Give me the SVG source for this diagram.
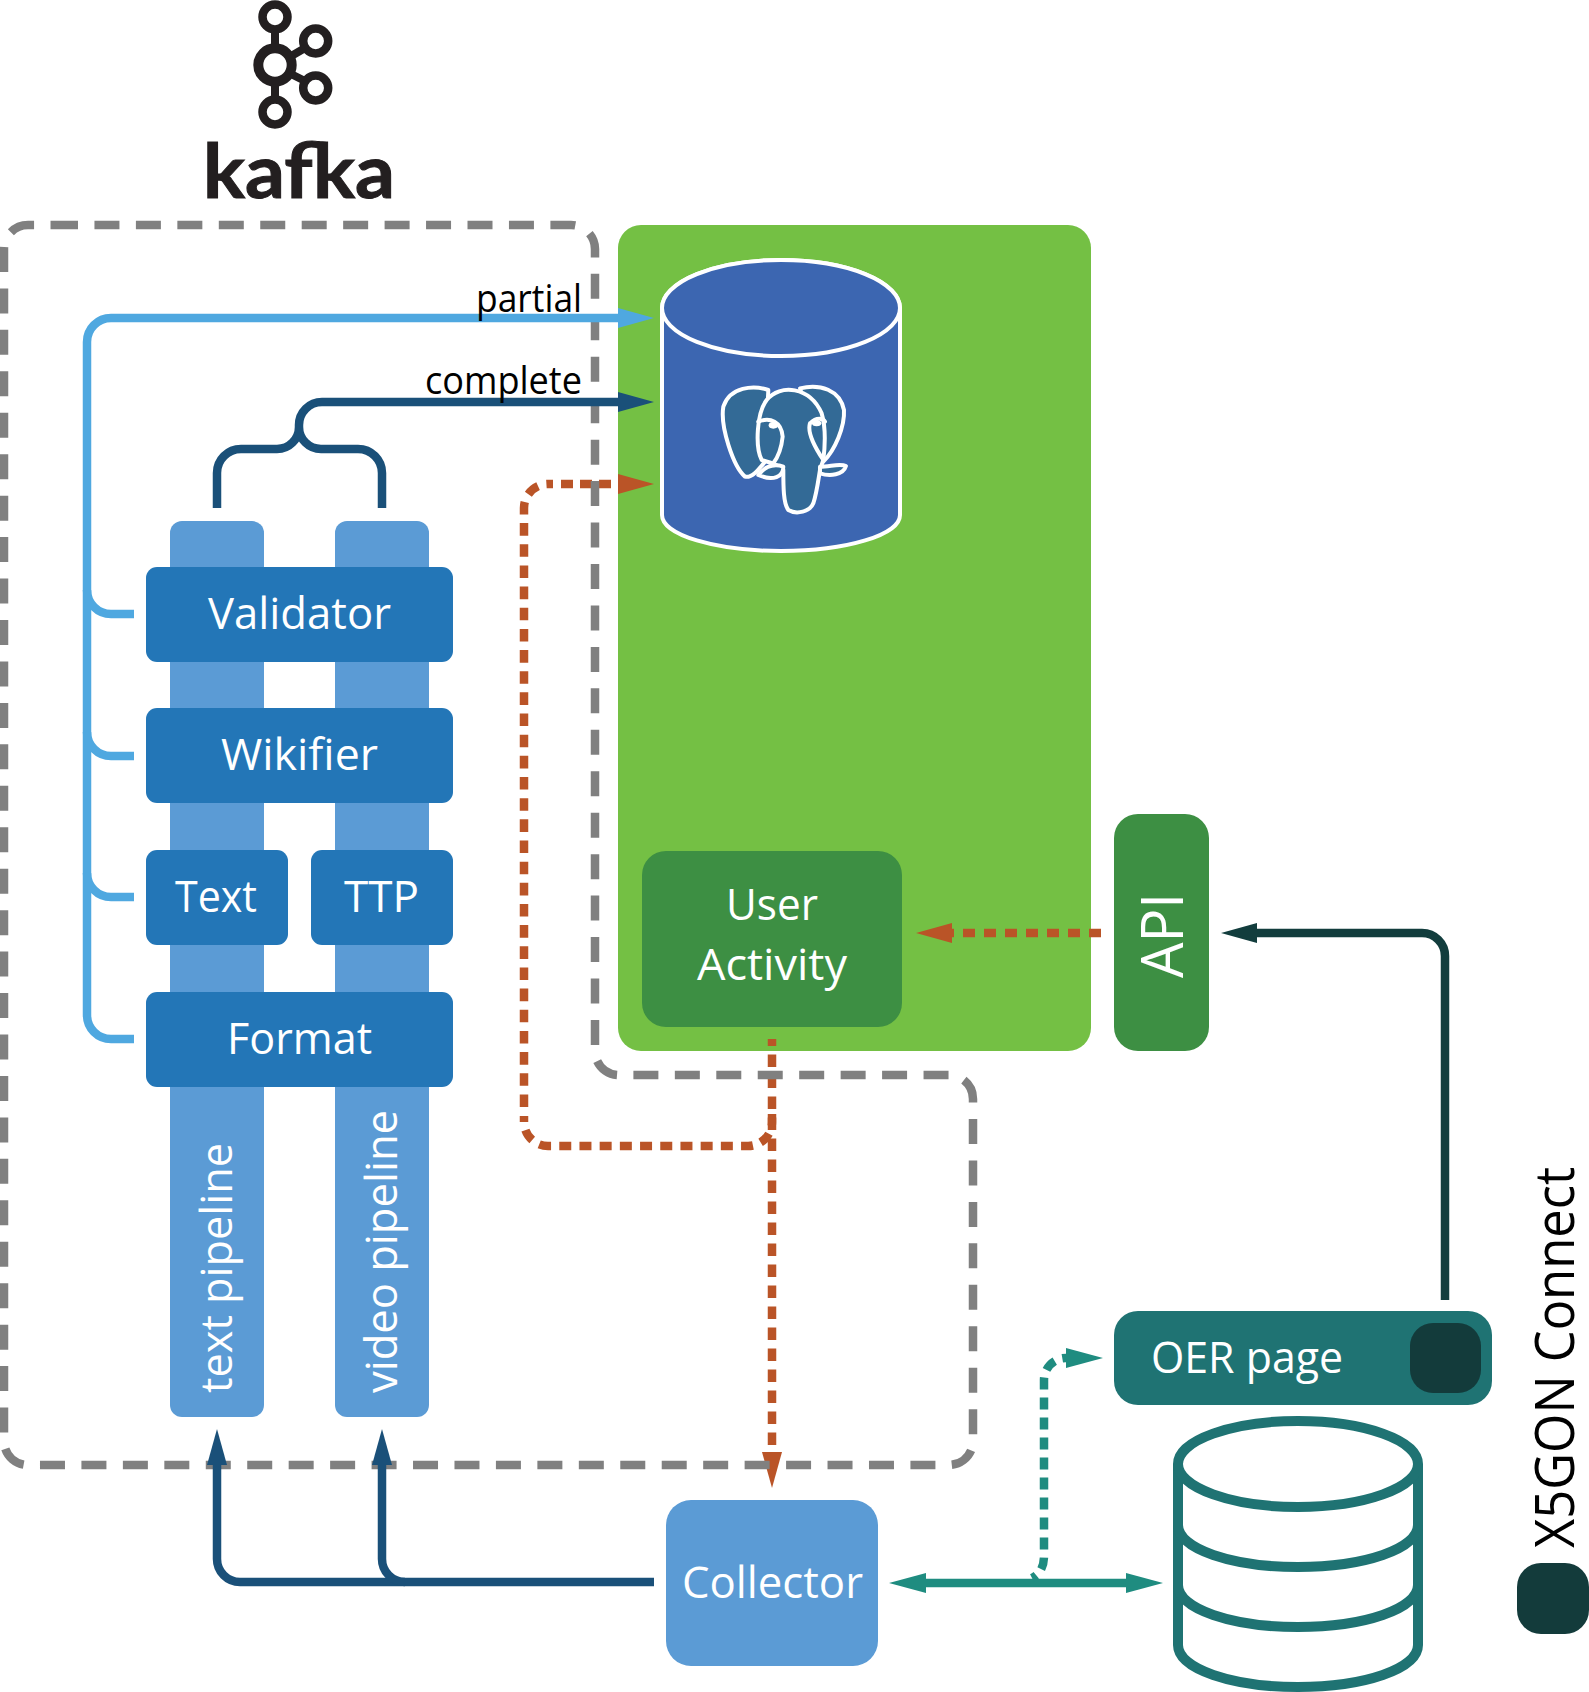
<svg xmlns="http://www.w3.org/2000/svg" width="1589" height="1692" viewBox="0 0 1589 1692">
<style>
text{font-family:"Open Sans","Noto Sans","Liberation Sans",sans-serif}
.w{fill:#fff;font-size:44px}
.b{fill:#000;font-size:38px}
.line{fill:none;stroke-width:8.500}
.pipe{fill:#5B9BD5}
.step{fill:#2376B7}
.dg{fill:#3D8F43}
.ring{fill:none;stroke:#231F20}
.teal{fill:none;stroke:#1F7373;stroke-width:10}
.pg{fill:#3C66B1;stroke:#fff;stroke-width:4}
.el{fill:#336A96;stroke:#fff;stroke-width:12;stroke-linejoin:round;stroke-linecap:round}
</style>
<defs>
<marker id="mLight" markerUnits="userSpaceOnUse" markerWidth="36" markerHeight="20" refX="0" refY="10" orient="auto"><path d="M0 0L36 10L0 20z" fill="#4FA8E0"/></marker>
<marker id="mDark" markerUnits="userSpaceOnUse" markerWidth="36" markerHeight="20" refX="0" refY="10" orient="auto"><path d="M0 0L36 10L0 20z" fill="#1A5079"/></marker>
<marker id="mOrange" markerUnits="userSpaceOnUse" markerWidth="36" markerHeight="20" refX="0" refY="10" orient="auto"><path d="M0 0L36 10L0 20z" fill="#BA5427"/></marker>
<marker id="mTeal" markerUnits="userSpaceOnUse" markerWidth="37" markerHeight="20" refX="0" refY="10" orient="auto-start-reverse"><path d="M0 0L37 10L0 20z" fill="#1F8C80"/></marker>
<marker id="mDeep" markerUnits="userSpaceOnUse" markerWidth="36" markerHeight="20" refX="0" refY="10" orient="auto"><path d="M0 0L36 10L0 20z" fill="#123D3D"/></marker>
</defs>

<g id="kafka-logo">
<g class="ring">
<circle cx="275" cy="65" r="16.700" stroke-width="10"/>
<circle cx="275" cy="17" r="12.500" stroke-width="8.500"/>
<circle cx="275" cy="112" r="12.500" stroke-width="8.500"/>
<circle cx="315.700" cy="41" r="12.500" stroke-width="8.500"/>
<circle cx="315.700" cy="88" r="12.500" stroke-width="8.500"/>
<path d="M275 30V45M275 85V99M293 55L305 48M293 75L305 81" stroke-width="8"/>
</g>
<text x="203" y="198" font-size="74" font-weight="700" fill="#231F20" stroke="#231F20" stroke-width="1" textLength="192" lengthAdjust="spacingAndGlyphs" style="font-family:Lato,'Liberation Sans',sans-serif">kafka</text>
</g>

<g id="postgres-box">
<rect x="618" y="225" width="473" height="826" rx="23" fill="#74C044"/>
</g>
<g id="postgres">
<path class="pg" d="M662 308A119 48 0 0 1 900 308V515A119 36 0 0 1 662 515Z"/>
<ellipse class="pg" cx="781" cy="308" rx="119" ry="48"/>
<g transform="translate(640 240) scale(.3333)">
<path class="el" d="M385 450C340 435 270 440 250 500C240 560 280 680 315 710C335 715 355 690 375 665Z"/>
<path class="el" d="M480 445C540 430 600 450 612 510C615 560 585 630 550 665Z"/>
<path class="el" d="M365 660C345 620 350 520 380 480C420 430 510 440 545 520C560 570 555 620 550 660L540 690C535 720 530 760 520 790C510 815 470 825 445 810C430 790 430 740 430 690C425 680 400 670 365 660Z"/>
<path class="el" style="fill:none" d="M355 545C390 530 425 545 428 590C425 620 415 650 400 670M510 550C530 530 550 535 555 545M510 550C500 580 530 630 550 660"/>
<path class="el" d="M355 705C375 680 400 670 430 680C430 710 400 725 355 705Z"/>
<path class="el" d="M540 680C570 680 600 670 618 678C610 705 570 710 540 700Z"/>
<ellipse cx="400" cy="556" rx="14" ry="10" fill="#fff"/>
<ellipse cx="530" cy="550" rx="14" ry="9" fill="#fff"/>
</g>
</g>
<g id="user-activity">
<rect class="dg" x="642" y="851" width="260" height="176" rx="24"/>
<text class="w" x="772" y="920" text-anchor="middle" textLength="92" lengthAdjust="spacingAndGlyphs">User</text>
<text class="w" x="772" y="980" text-anchor="middle" textLength="150" lengthAdjust="spacingAndGlyphs">Activity</text>
</g>
<g id="api">
<rect class="dg" x="1114" y="814" width="95" height="237" rx="24"/>
<text class="w" transform="translate(1183 978) rotate(-90)" textLength="85" lengthAdjust="spacingAndGlyphs" style="font-size:58px">API</text>
</g>

<g id="text-pipeline">
<rect class="pipe" x="170" y="521" width="94" height="896" rx="12"/>
<text class="w" transform="translate(232 1393) rotate(-90)" textLength="250" lengthAdjust="spacingAndGlyphs">text pipeline</text>
</g>
<g id="video-pipeline">
<rect class="pipe" x="335" y="521" width="94" height="896" rx="12"/>
<text class="w" transform="translate(397 1393) rotate(-90)" textLength="283" lengthAdjust="spacingAndGlyphs">video pipeline</text>
</g>
<g id="validator">
<rect class="step" x="146" y="567" width="307" height="95" rx="11"/>
<text class="w" x="208" y="629" textLength="183" lengthAdjust="spacingAndGlyphs">Validator</text>
</g>
<g id="wikifier">
<rect class="step" x="146" y="708" width="307" height="95" rx="11"/>
<text class="w" x="221" y="770" textLength="157" lengthAdjust="spacingAndGlyphs">Wikifier</text>
</g>
<g id="text-step">
<rect class="step" x="146" y="850" width="142" height="95" rx="11"/>
<text class="w" x="175" y="912" textLength="82" lengthAdjust="spacingAndGlyphs">Text</text>
</g>
<g id="ttp-step">
<rect class="step" x="311" y="850" width="142" height="95" rx="11"/>
<text class="w" x="344" y="912" textLength="75" lengthAdjust="spacingAndGlyphs">TTP</text>
</g>
<g id="format">
<rect class="step" x="146" y="992" width="307" height="95" rx="11"/>
<text class="w" x="227" y="1054" textLength="145" lengthAdjust="spacingAndGlyphs">Format</text>
</g>

<g id="collector">
<rect x="666" y="1500" width="212" height="166" rx="25" fill="#5B9BD5"/>
<text class="w" x="682" y="1598" textLength="181" lengthAdjust="spacingAndGlyphs">Collector</text>
</g>
<g id="oer-page">
<rect x="1114" y="1311" width="378" height="94" rx="24" fill="#1F7373"/>
<rect x="1410" y="1323" width="71" height="70" rx="23" fill="#133B3B"/>
<text class="w" x="1151" y="1373" textLength="192" lengthAdjust="spacingAndGlyphs">OER page</text>
</g>
<g id="database">
<path class="teal" d="M1178 1464V1645C1178 1669 1232 1687 1298 1687S1418 1669 1418 1645V1464"/>
<ellipse class="teal" cx="1298" cy="1464" rx="120" ry="43"/>
<path class="teal" d="M1178 1525C1178 1549 1232 1567 1298 1567S1418 1549 1418 1525M1178 1585C1178 1609 1232 1627 1298 1627S1418 1609 1418 1585"/>
</g>
<g id="legend">
<rect x="1517" y="1563" width="72" height="71" rx="24" fill="#133B3B"/>
<text transform="translate(1574 1548) rotate(-90)" font-size="55" fill="#000" textLength="381" lengthAdjust="spacingAndGlyphs">X5GON Connect</text>
</g>

<g id="connectors">
<path class="line" stroke="#BA5427" stroke-dasharray="12.600 8.400" stroke-dashoffset="5.600" marker-end="url(#mOrange)" d="M772 1039V1452"/>
<path class="line" stroke="#BA5427" stroke-dasharray="12 8.200" d="M772 1114V1122A24 24 0 0 1 748 1146H548A24 24 0 0 1 524 1122V1116"/>
<path class="line" stroke="#BA5427" stroke-dasharray="12.600 8.560" d="M524 1107V508A24 24 0 0 1 548 484H553"/>
<path class="line" stroke="#BA5427" stroke-dasharray="12 7" marker-end="url(#mOrange)" d="M561 484H618"/>
<path class="line" stroke="#BA5427" stroke-dasharray="12 9" marker-end="url(#mOrange)" d="M1101 933H952"/>
<path fill="none" stroke="#808080" stroke-width="8.500" stroke-dasharray="25 16.450" d="M53 225H571A24 24 0 0 1 595 249V1051A24 24 0 0 0 619 1075H949A24 24 0 0 1 973 1099V1441A24 24 0 0 1 949 1465H28A24 24 0 0 1 4 1441V249A24 24 0 0 1 28 225H53"/>
<path class="line" stroke="#4FA8E0" marker-end="url(#mLight)" d="M134 1039H111A24 24 0 0 1 87 1015V342A24 24 0 0 1 111 318H618"/>
<path class="line" stroke="#4FA8E0" d="M134 614H111A24 24 0 0 1 87 590M134 756H111A24 24 0 0 1 87 732M134 897H111A24 24 0 0 1 87 873"/>
<path class="line" stroke="#1A5079" marker-end="url(#mDark)" d="M299 427V425A23 23 0 0 1 322 402H618"/>
<path class="line" stroke="#1A5079" d="M217 508V473A24 24 0 0 1 241 449H277A22 22 0 0 0 299 427A22 22 0 0 0 321 449H358A24 24 0 0 1 382 473V508"/>
<path class="line" stroke="#1A5079" marker-end="url(#mDark)" d="M654 1582H240A23 23 0 0 1 217 1559V1465"/>
<path class="line" stroke="#1A5079" marker-end="url(#mDark)" d="M405 1582A23 23 0 0 1 382 1559V1465"/>
<path class="line" stroke="#1F8C80" marker-start="url(#mTeal)" marker-end="url(#mTeal)" d="M926 1583H1126"/>
<path class="line" stroke="#1F8C80" stroke-dasharray="12 8" stroke-dashoffset="7" marker-end="url(#mTeal)" d="M1032 1578Q1044 1572 1044 1556V1380A22 22 0 0 1 1066 1358"/>
<path class="line" stroke="#123D3D" marker-end="url(#mDeep)" d="M1445 1300V956A23 23 0 0 0 1422 933H1257"/>
</g>

<g id="labels">
<text class="b" x="476" y="312" textLength="106" lengthAdjust="spacingAndGlyphs">partial</text>
<text class="b" x="425" y="394" textLength="157" lengthAdjust="spacingAndGlyphs">complete</text>
</g>
</svg>
